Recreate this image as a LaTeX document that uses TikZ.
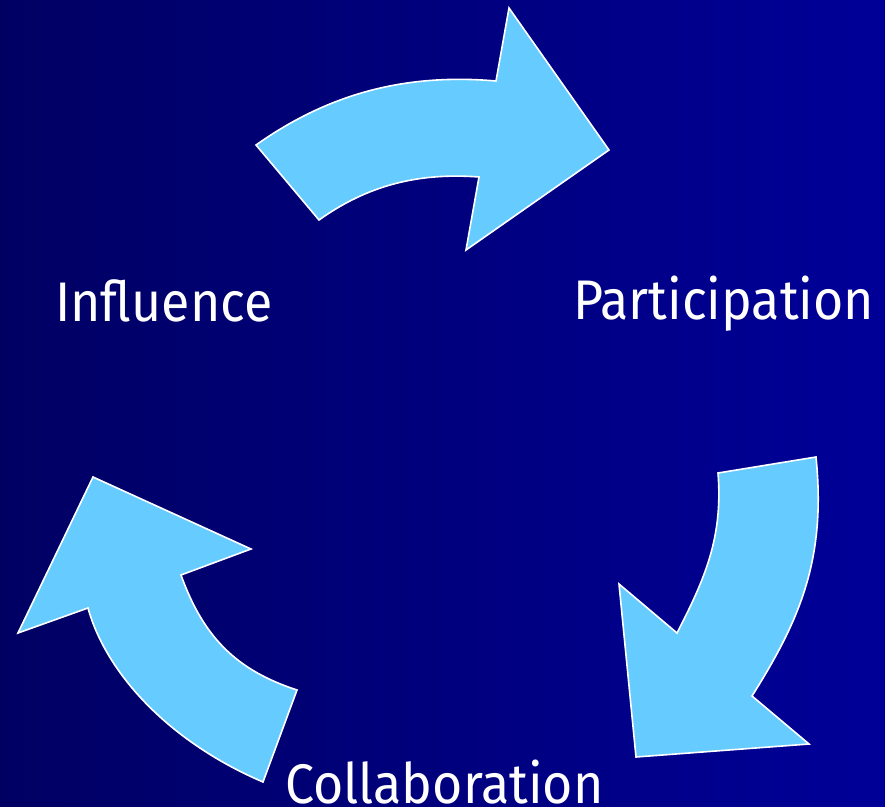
\documentclass[tikz,border=0pt]{standalone}
\usepackage{fontspec}
\setmainfont{Fira Sans}[FakeStretch=0.93]
\definecolor{bgleft}{HTML}{000063}
\definecolor{bgright}{HTML}{000098}
\definecolor{arrowfill}{HTML}{66CCFF}
\begin{document}
\begin{tikzpicture}[x=1bp,y=-1bp,
  cyclearrow/.style={fill=arrowfill,draw=white,line width=1.6bp,line join=miter},
  label/.style={text=white,font=\fontsize{56}{60}\selectfont,inner sep=0pt,anchor=base west}]
\useasboundingbox (0,0) rectangle (885,807);
\shade[left color=bgleft,right color=bgright] (0,0) rectangle (885,807);
% top arrow
\draw[cyclearrow] (256,145) .. controls (329.5,93) and (406.4,73.2) .. (496,81)
  -- (509,8) -- (609,150) -- (466,250) -- (479,177)
  .. controls (419.2,172.4) and (367.8,185.1) .. (319,220) -- cycle;
% right arrow
\draw[cyclearrow] (718,473) -- (816,457)
  .. controls (826,557) and (801.5,617.7) .. (752,696)
  -- (809,744) -- (636,757) -- (619,584) -- (677,633)
  .. controls (704.4,579.6) and (723.2,537.8) .. cycle;
% left arrow
\draw[cyclearrow] (181,575)
  .. controls (203.1,636.1) and (235.3,669.9) .. (297,690)
  -- (263,782)
  .. controls (165,740) and (105,670) .. (88,608)
  -- (18,633) -- (93,477) -- (251,549) -- cycle;
\node[label] (infl) at (55,321.5) {Influence};
\node[label] (part) at (573,319) {Participation};
\node[label] (coll) at (285,803) {Collaboration};
\end{tikzpicture}
\end{document}
